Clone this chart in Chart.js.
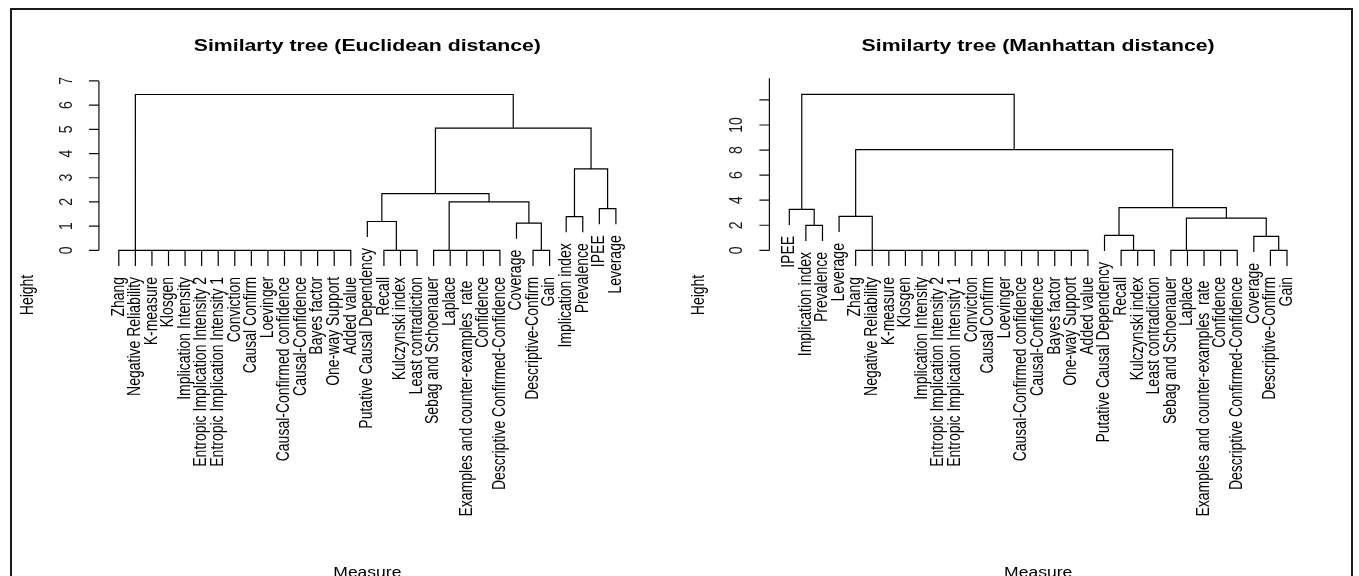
<!DOCTYPE html>
<html>
<head>
<meta charset="utf-8">
<script src="https://cdn.jsdelivr.net/npm/chart.js@4.4.1/dist/chart.umd.min.js"></script>
<style>
  html, body { margin: 0; padding: 0; background: #fff; }
  body { width: 1359px; height: 576px; position: relative; overflow: hidden; }
  .frame { position: absolute; left: 10px; top: 8px; width: 1343px; height: 600px;
           border: 2px solid #1a1a1a; border-bottom: none; box-sizing: border-box; }
  .panel { position: absolute; top: 0; }
</style>
</head>
<body>
<div class="frame"></div>
<canvas id="euclid" class="panel" style="left:0" width="680" height="576"></canvas>
<canvas id="manhattan" class="panel" style="left:680px" width="679" height="576"></canvas>
<script>
// leaves in the order they are drawn
const euclidLeaves = [
  "Zhang", "Negative Reliability", "K-measure", "Klosgen", "Implication Intensity",
  "Entropic Implication Intensity 2", "Entropic Implication Intensity 1", "Conviction",
  "Causal Confirm", "Loevinger", "Causal-Confirmed confidence", "Causal-Confidence",
  "Bayes factor", "One-way Support", "Added value", "Putative Causal Dependency", "Recall",
  "Kulczynski index", "Least contradiction", "Sebag and Schoenauer", "Laplace",
  "Examples and counter-examples  rate ", "Confidence", "Descriptive Confirmed-Confidence",
  "Coverage", "Descriptive-Confirm", "Gain", "Implication index", "Prevalence", "IPEE", "Leverage"
];
// hclust style merges: negative = leaf (1-based), positive = earlier row, then height
const euclidMerge = [
  [-14, -15, 0], [-13, 1, 0], [-12, 2, 0], [-11, 3, 0], [-10, 4, 0], [-9, 5, 0], [-8, 6, 0],
  [-7, 7, 0], [-6, 8, 0], [-5, 9, 0], [-4, 10, 0], [-3, 11, 0], [-2, 12, 0], [-1, 13, 0],
  [-18, -19, 0], [-17, 15, 0],
  [-23, -24, 0], [-22, 17, 0], [-21, 18, 0], [-20, 19, 0],
  [-26, -27, 0], [-25, 21, 1.12],
  [-16, 16, 1.19],
  [-28, -29, 1.39],
  [-30, -31, 1.72],
  [20, 22, 2.0],
  [23, 26, 2.34],
  [24, 25, 3.37],
  [27, 28, 5.05],
  [14, 29, 6.44]
];
const euclidTicks = [0, 1, 2, 3, 4, 5, 6, 7];
const euclidTickLabels = ["0", "1", "2", "3", "4", "5", "6", "7"];

const manhattanLeaves = [
  "IPEE", "Implication index", "Prevalence", "Leverage", "Zhang", "Negative Reliability",
  "K-measure", "Klosgen", "Implication Intensity", "Entropic Implication Intensity 2",
  "Entropic Implication Intensity 1", "Conviction", "Causal Confirm", "Loevinger",
  "Causal-Confirmed confidence", "Causal-Confidence", "Bayes factor", "One-way Support",
  "Added value", "Putative Causal Dependency", "Recall", "Kulczynski index",
  "Least contradiction", "Sebag and Schoenauer", "Laplace", "Examples and counter-examples  rate ",
  "Confidence", "Descriptive Confirmed-Confidence", "Coverage", "Descriptive-Confirm", "Gain"
];
const manhattanMerge = [
  [-18, -19, 0], [-17, 1, 0], [-16, 2, 0], [-15, 3, 0], [-14, 4, 0], [-13, 5, 0], [-12, 6, 0],
  [-11, 7, 0], [-10, 8, 0], [-9, 9, 0], [-8, 10, 0], [-7, 11, 0], [-6, 12, 0], [-5, 13, 0],
  [-22, -23, 0], [-21, 15, 0],
  [-27, -28, 0], [-26, 17, 0], [-25, 18, 0], [-24, 19, 0],
  [-30, -31, 0], [-29, 21, 1.11],
  [-20, 16, 1.19],
  [-2, -3, 1.99],
  [20, 22, 2.56],
  [-4, 14, 2.70],
  [-1, 24, 3.27],
  [23, 25, 3.40],
  [26, 28, 8.04],
  [27, 29, 12.45]
];
const manhattanTicks = [0, 2, 4, 6, 8, 10, 12];
const manhattanTickLabels = ["0", "2", "4", "6", "8", "10", ""];

const SX = 1.25; // the picture is stretched sideways
const FONT = "'Liberation Sans', Arial, sans-serif";

function layoutTree(merge, n) {
  const top = merge[merge.length - 1][2];
  const hang = 0.1 * top;
  const nodes = [];
  const pts = [];
  const leafEnd = new Array(n);
  merge.forEach(([a, b, H]) => {
    const kids = [a, b].map(id => {
      if (id < 0) {
        leafEnd[-id - 1] = H - hang;
        return { x: -id - 1, h: H - hang };
      }
      return nodes[id - 1];
    });
    const [c1, c2] = kids;
    pts.push({ x: c1.x, y: c1.h }, { x: c1.x, y: H }, { x: c2.x, y: H }, { x: c2.x, y: c2.h }, { x: c2.x, y: null });
    nodes.push({ x: (c1.x + c2.x) / 2, h: H });
  });
  return { pts, leafEnd };
}

function txt(ctx, s, x, y, rot, align, base, font, color) {
  ctx.save();
  ctx.translate(x, y);
  ctx.scale(SX, 1);
  ctx.rotate(rot);
  ctx.font = font;
  ctx.fillStyle = color;
  ctx.textAlign = align;
  ctx.textBaseline = base;
  ctx.fillText(s, 0, 0);
  ctx.restore();
}

const dendroText = {
  id: 'dendroText',
  afterDraw(chart, args, o) {
    const ctx = chart.ctx;
    const xs = chart.scales.x, ys = chart.scales.y;
    const area = chart.chartArea;
    const ax = area.left;
    ctx.save();
    ctx.strokeStyle = '#111';
    ctx.lineWidth = 1.2;
    ctx.beginPath();
    ctx.moveTo(ax, ys.getPixelForValue(0));
    ctx.lineTo(ax, ys.getPixelForValue(o.axisTop));
    o.ticks.forEach(t => {
      const py = ys.getPixelForValue(t);
      ctx.moveTo(ax - 10, py);
      ctx.lineTo(ax, py);
    });
    ctx.stroke();
    ctx.restore();
    o.ticks.forEach((t, i) => {
      if (o.tickLabels[i]) txt(ctx, o.tickLabels[i], ax - 32, ys.getPixelForValue(t), -Math.PI / 2, 'center', 'middle', '14px ' + FONT, '#1a1a1a');
    });
    o.leaves.forEach((s, i) => {
      const px = xs.getPixelForValue(i);
      const py = ys.getPixelForValue(o.leafEnd[i]) + 11;
      txt(ctx, s, px, py, -Math.PI / 2, 'right', 'middle', '14px ' + FONT, '#000');
    });
    const cx = (area.left + area.right) / 2;
    txt(ctx, o.title, cx, 51, 0, 'center', 'alphabetic', 'bold 17px ' + FONT, '#000');
    txt(ctx, 'Height', ax - 70.5, 295, -Math.PI / 2, 'center', 'middle', '14px ' + FONT, '#000');
    txt(ctx, 'Measure', cx, 577, 0, 'center', 'alphabetic', '14px ' + FONT, '#000');
  }
};

function makeChart(id, cfg) {
  const canvas = document.getElementById(id);
  const tree = layoutTree(cfg.merge, cfg.leaves.length);
  const n = cfg.leaves.length;
  const xMin = -1.2, xMax = n - 1 + 1.2;
  const left = cfg.leaf0 + xMin * cfg.step;
  const right = cfg.leaf0 + xMax * cfg.step;
  const top = cfg.zero - cfg.yMax * cfg.unit;
  const bottom = cfg.zero - cfg.yMin * cfg.unit;
  new Chart(canvas, {
    type: 'line',
    data: {
      datasets: [{
        data: tree.pts,
        borderColor: '#000',
        borderWidth: 1.2,
        pointRadius: 0,
        tension: 0,
        fill: false,
        spanGaps: false
      }]
    },
    options: {
      responsive: false,
      animation: false,
      events: [],
      layout: { padding: { left: left, right: canvas.width - right, top: top, bottom: canvas.height - bottom } },
      plugins: {
        legend: { display: false },
        tooltip: { enabled: false },
        dendroText: {
          leaves: cfg.leaves, leafEnd: tree.leafEnd, ticks: cfg.ticks, tickLabels: cfg.tickLabels,
          axisTop: cfg.axisTop, title: cfg.title
        }
      },
      scales: {
        x: { type: 'linear', display: false, min: xMin, max: xMax },
        y: { type: 'linear', display: false, min: cfg.yMin, max: cfg.yMax }
      }
    },
    plugins: [dendroText]
  });
}

makeChart('euclid', {
  leaves: euclidLeaves, merge: euclidMerge, ticks: euclidTicks, tickLabels: euclidTickLabels,
  title: 'Similarty tree (Euclidean distance)',
  leaf0: 118.8, step: 16.57, zero: 250.3, unit: 24.19, yMin: -1.2, yMax: 7.3, axisTop: 7
});
makeChart('manhattan', {
  leaves: manhattanLeaves, merge: manhattanMerge, ticks: manhattanTicks, tickLabels: manhattanTickLabels,
  title: 'Similarty tree (Manhattan distance)',
  leaf0: 109.3, step: 16.59, zero: 250.3, unit: 12.53, yMin: -2.4, yMax: 13.73, axisTop: 13.73
});
</script>
</body>
</html>
